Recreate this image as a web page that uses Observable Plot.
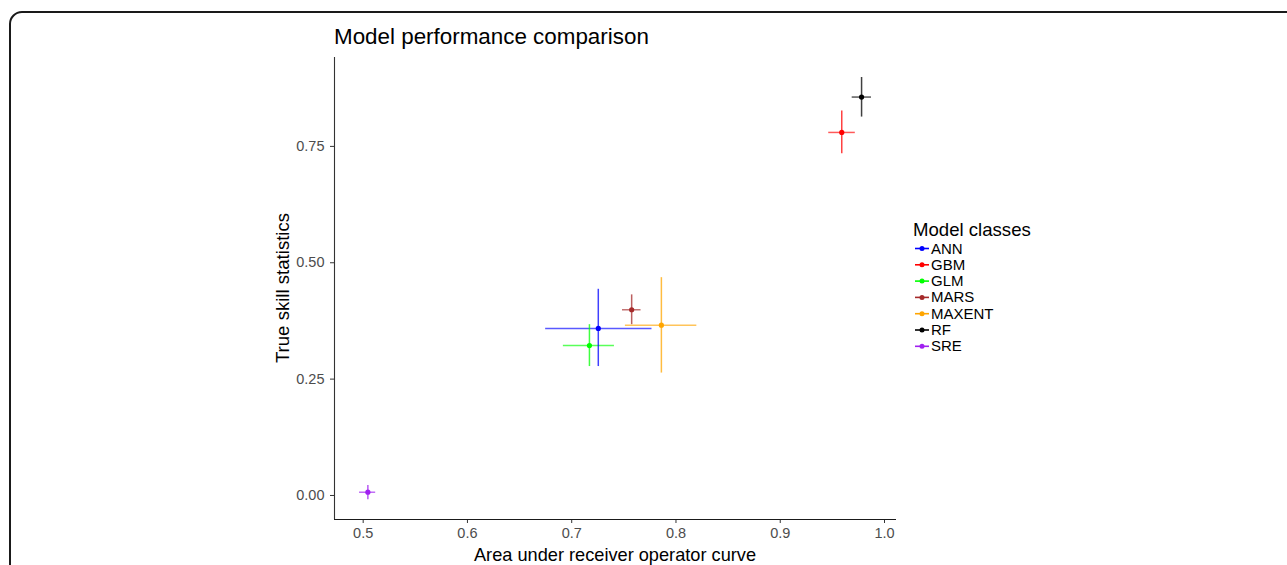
<!DOCTYPE html>
<html>
<head>
<meta charset="utf-8">
<script src="https://cdn.jsdelivr.net/npm/d3@7"></script>
<script src="https://cdn.jsdelivr.net/npm/@observablehq/plot@0.6"></script>
<style>
  html, body { margin: 0; padding: 0; background: #fff; }
  #wrap { position: relative; width: 1287px; height: 565px; overflow: hidden; font-family: "Liberation Sans", Arial, Helvetica, sans-serif; }
  #frame { position: absolute; left: 9px; top: 11px; width: 1320px; height: 620px; border: 2px solid #1a1a1a; border-radius: 13px; box-sizing: border-box; }
  #chart { position: absolute; left: 0; top: 0; }
  #overlay { position: absolute; left: 0; top: 0; pointer-events: none; }
</style>
</head>
<body>
<div id="wrap">
  <div id="frame"></div>
  <div id="chart"></div>
  <svg id="overlay" width="1287" height="565"></svg>
</div>
<script>
// ---- data ----
const models = ["ANN", "GBM", "GLM", "MARS", "MAXENT", "RF", "SRE"];
const auc    = [0.7255, 0.959, 0.717, 0.7575, 0.786, 0.978, 0.5045];
const aucLo  = [0.675, 0.9465, 0.692, 0.7487, 0.7515, 0.969, 0.4965];
const aucHi  = [0.777, 0.972, 0.741, 0.7665, 0.820, 0.9875, 0.512];
const tss    = [0.359, 0.780, 0.322, 0.399, 0.366, 0.856, 0.0070];
const tssLo  = [0.277, 0.734, 0.277, 0.367, 0.263, 0.813, -0.009];
const tssHi  = [0.443, 0.826, 0.367, 0.431, 0.468, 0.898, 0.0215];
const modelColors = ["#0000ff", "#ff0000", "#00ff00", "#a52a2a", "#ffa500", "#000000", "#a020f0"];
const xTicks = [0.5, 0.6, 0.7, 0.8, 0.9, 1.0];
const yTicks = [0.00, 0.25, 0.50, 0.75];
const xDomain = [0.4725, 1.0115];
const yDomain = [-0.0516, 0.941];
const titleText = "Model performance comparison";
const xLabel = "Area under receiver operator curve";
const yLabel = "True skill statistics";
const legendTitle = "Model classes";

const rows = models.map((m, i) => ({
  model: m, auc: auc[i], aucLo: aucLo[i], aucHi: aucHi[i],
  tss: tss[i], tssLo: tssLo[i], tssHi: tssHi[i]
}));

const W = 1287, H = 565;
const mL = 334, mR = W - 896, mT = 57, mB = H - 519;

const chart = Plot.plot({
  width: W, height: H,
  marginLeft: mL, marginRight: mR, marginTop: mT, marginBottom: mB,
  style: { fontFamily: '"Liberation Sans", Arial, Helvetica, sans-serif', background: "transparent" },
  x: { domain: xDomain },
  y: { domain: yDomain },
  color: { domain: models, range: modelColors },
  marks: [
    Plot.axisX({ ticks: xTicks, tickFormat: d3.format(".1f"), tickSize: 4, tickPadding: 4, fontSize: 14.5, stroke: "#333", fill: "#4d4d4d", label: null }),
    Plot.axisY({ ticks: yTicks, tickFormat: d3.format(".2f"), tickSize: 4, tickPadding: 6, fontSize: 14.5, stroke: "#333", fill: "#4d4d4d", label: null }),
    Plot.ruleX([xDomain[0]], { stroke: "#333", strokeWidth: 1.1 }),
    Plot.ruleY([yDomain[0]], { stroke: "#1a1a1a", strokeWidth: 1.1 }),
    Plot.ruleY(rows, { y: "tss", x1: "aucLo", x2: "aucHi", stroke: "model", strokeWidth: 1.5, strokeOpacity: 0.65 }),
    Plot.ruleX(rows, { x: "auc", y1: "tssLo", y2: "tssHi", stroke: "model", strokeWidth: 1.5, strokeOpacity: 0.75 }),
    Plot.dot(rows, { x: "auc", y: "tss", fill: "model", r: 2.6, stroke: "none" })
  ]
});
document.getElementById("chart").appendChild(chart);

// ---- overlay texts & legend ----
const ov = d3.select("#overlay");
const font = '"Liberation Sans", Arial, Helvetica, sans-serif';
ov.append("text").attr("x", 334).attr("y", 44).attr("font-family", font).attr("font-size", 22.4).attr("fill", "#000").text(titleText);
ov.append("text").attr("x", (mL + (W - mR)) / 2).attr("y", 561).attr("text-anchor", "middle").attr("font-family", font).attr("font-size", 18.2).attr("fill", "#000").text(xLabel);
ov.append("text").attr("transform", `translate(289,${(mT + (H - mB)) / 2}) rotate(-90)`).attr("text-anchor", "middle").attr("font-family", font).attr("font-size", 18.6).attr("fill", "#000").text(yLabel);

const lg = ov.append("g");
lg.append("text").attr("x", 913).attr("y", 236).attr("font-family", font).attr("font-size", 18.6).attr("fill", "#000").text(legendTitle);
models.forEach((m, i) => {
  const cy = 248.5 + i * 16.3;
  const g = lg.append("g");
  g.append("line").attr("x1", 915).attr("x2", 929).attr("y1", cy).attr("y2", cy).attr("stroke", modelColors[i]).attr("stroke-width", 1.6);
  g.append("circle").attr("cx", 922).attr("cy", cy).attr("r", 2.5).attr("fill", modelColors[i]);
  g.append("text").attr("x", 931).attr("y", cy + 5).attr("font-family", font).attr("font-size", 15).attr("fill", "#000").text(m);
});
</script>
</body>
</html>
